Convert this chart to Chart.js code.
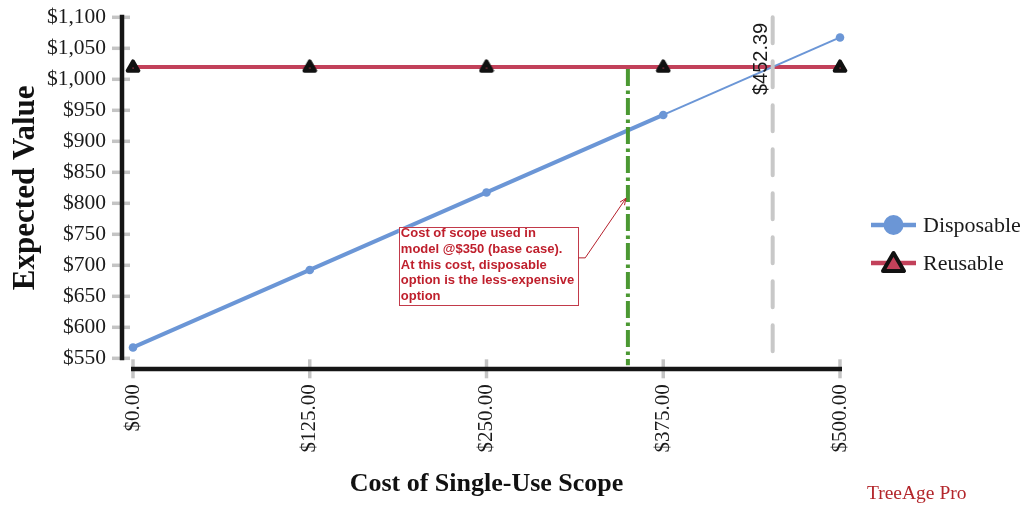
<!DOCTYPE html>
<html>
<head>
<meta charset="utf-8">
<script src="https://cdn.jsdelivr.net/npm/chart.js@4/dist/chart.umd.min.js"></script>
<style>
  html, body { margin: 0; padding: 0; background: #ffffff; }
  #wrap { width: 1024px; height: 506px; position: relative; }
</style>
</head>
<body>
<div id="wrap"><canvas id="chart" width="1024" height="506"></canvas></div>
<script>
// One-way sensitivity analysis: cost of a single-use scope vs expected value
const scopeCosts = [0, 125, 250, 375, 500];
const disposableEV = [567.5, 692.5, 817.5, 942.5, 1067.5];
const reusableEV = [1019.9, 1019.9, 1019.9, 1019.9, 1019.9];
const seriesNames = ['Disposable', 'Reusable'];
const thresholdCost = 452.39;      // break-even cost
const baseCaseCost = 350;          // cost used in the base-case model
const noteLines = [
  'Cost of scope used in',
  'model @$350 (base case).',
  'At this cost, disposable',
  'option is the less-expensive',
  'option'
];
const noteAnchor = { x: 188, y: 762 };   // top-left of the callout, in data units
const noteTarget = { x: baseCaseCost, y: 808 };

const BLUE = '#6b96d6';
const RED = '#c2415a';
const GREEN = '#4b9832';
const SERIF = '"Liberation Serif", "Times New Roman", serif';
const SANS = '"Liberation Sans", Arial, sans-serif';

const money = v => '$' + Number(v).toLocaleString('en-US');

// Small black-edged triangle marker with rounded corners
function triangleMarker() {
  const c = document.createElement('canvas');
  c.width = 16; c.height = 16;
  const g = c.getContext('2d');
  g.beginPath();
  g.moveTo(8, 2.4);
  g.lineTo(13.3, 11.7);
  g.lineTo(2.7, 11.7);
  g.closePath();
  g.fillStyle = '#111111';
  g.fill();
  g.lineJoin = 'round';
  g.lineWidth = 4;
  g.strokeStyle = '#111111';
  g.stroke();
  g.fillStyle = RED;
  g.fillRect(7.5, 8.5, 1.2, 1.2);
  return c;
}

// Offset axis lines, grey tick marks
const axesPlugin = {
  id: 'offsetAxes',
  beforeDatasetsDraw(chart) {
    const { ctx, chartArea: a, scales: { x, y } } = chart;
    ctx.save();
    ctx.strokeStyle = '#c4c4c4';
    ctx.lineWidth = 3.5;
    y.ticks.forEach(t => {
      const py = y.getPixelForValue(t.value);
      ctx.beginPath(); ctx.moveTo(a.left - 21, py); ctx.lineTo(a.left - 3, py); ctx.stroke();
    });
    x.ticks.forEach(t => {
      const px = x.getPixelForValue(t.value);
      ctx.beginPath(); ctx.moveTo(px, a.bottom + 1); ctx.lineTo(px, a.bottom + 20); ctx.stroke();
    });
    ctx.strokeStyle = '#151515';
    ctx.lineWidth = 4.5;
    ctx.beginPath(); ctx.moveTo(a.left - 11, a.top - 2.5); ctx.lineTo(a.left - 11, a.bottom + 2); ctx.stroke();
    ctx.beginPath(); ctx.moveTo(a.left - 2, a.bottom + 10.7); ctx.lineTo(a.right + 2, a.bottom + 10.7); ctx.stroke();
    ctx.restore();
  }
};

// Reference lines, callout and legend
const overlayPlugin = {
  id: 'overlay',
  afterDatasetsDraw(chart) {
    const { ctx, chartArea: a, scales: { x, y } } = chart;
    ctx.save();

    // break-even line
    const tx = x.getPixelForValue(thresholdCost);
    ctx.strokeStyle = '#c8c8c8';
    ctx.lineWidth = 4;
    ctx.lineCap = 'round';
    ctx.setLineDash([26, 18]);
    ctx.beginPath(); ctx.moveTo(tx, a.top); ctx.lineTo(tx, a.bottom - 6); ctx.stroke();
    ctx.setLineDash([]);
    ctx.lineCap = 'butt';

    ctx.save();
    ctx.translate(tx - 6, a.top + 5.5);
    ctx.rotate(-Math.PI / 2);
    ctx.font = '20px ' + SANS;
    ctx.fillStyle = '#1a1a1a';
    ctx.textAlign = 'right';
    ctx.textBaseline = 'alphabetic';
    ctx.fillText('$' + thresholdCost.toFixed(2), 0, 0);
    ctx.restore();

    // base-case line
    const gx = x.getPixelForValue(baseCaseCost);
    ctx.strokeStyle = GREEN;
    ctx.lineWidth = 4;
    ctx.setLineDash([17, 4.5, 3.5, 4]);
    ctx.beginPath();
    ctx.moveTo(gx, y.getPixelForValue(reusableEV[0]) + 2);
    ctx.lineTo(gx, a.bottom + 7);
    ctx.stroke();
    ctx.setLineDash([]);

    // callout box
    ctx.font = 'bold 13px ' + SANS;
    const lh = 15.7;
    const bx = x.getPixelForValue(noteAnchor.x);
    const by = y.getPixelForValue(noteAnchor.y);
    const bw = Math.max(...noteLines.map(s => ctx.measureText(s).width)) + 6;
    const bh = (noteLines.length - 1) * lh + 15.6;
    ctx.fillStyle = '#ffffff';
    ctx.fillRect(bx, by, bw, bh);
    ctx.strokeStyle = '#c23a4a';
    ctx.lineWidth = 1;
    ctx.strokeRect(Math.round(bx) + 0.5, Math.round(by) + 0.5, Math.round(bw), Math.round(bh));
    ctx.fillStyle = '#bf1f2c';
    ctx.textAlign = 'left';
    ctx.textBaseline = 'middle';
    noteLines.forEach((s, i) => ctx.fillText(s, bx + 2, by + 6.8 + i * lh));

    // leader arrow
    const ax0 = bx + bw, ay0 = by + 31;
    const axT = x.getPixelForValue(noteTarget.x) - 2, ayT = y.getPixelForValue(noteTarget.y);
    ctx.strokeStyle = '#b5202c';
    ctx.lineWidth = 1;
    ctx.beginPath();
    ctx.moveTo(ax0, ay0); ctx.lineTo(ax0 + 7, ay0); ctx.lineTo(axT, ayT);
    ctx.stroke();
    const ang = Math.atan2(ayT - ay0, axT - (ax0 + 7));
    ctx.beginPath();
    ctx.moveTo(axT - 7 * Math.cos(ang - 0.4), ayT - 7 * Math.sin(ang - 0.4));
    ctx.lineTo(axT, ayT);
    ctx.lineTo(axT - 7 * Math.cos(ang + 0.4), ayT - 7 * Math.sin(ang + 0.4));
    ctx.stroke();

    ctx.restore();
  },
  afterDraw(chart) {
    const { ctx, chartArea: a } = chart;
    ctx.save();
    const lx0 = a.right + 31, lx1 = a.right + 76, mx = a.right + 53.5, tx = a.right + 83;
    const row1 = 225, row2 = 263;

    ctx.lineWidth = 4.5;
    ctx.strokeStyle = BLUE;
    ctx.beginPath(); ctx.moveTo(lx0, row1); ctx.lineTo(lx1, row1); ctx.stroke();
    ctx.fillStyle = BLUE;
    ctx.beginPath(); ctx.arc(mx, row1, 10, 0, Math.PI * 2); ctx.fill();

    ctx.strokeStyle = RED;
    ctx.beginPath(); ctx.moveTo(lx0, row2); ctx.lineTo(lx1, row2); ctx.stroke();
    ctx.beginPath();
    ctx.moveTo(mx, row2 - 10);
    ctx.lineTo(mx + 10.5, row2 + 8);
    ctx.lineTo(mx - 10.5, row2 + 8);
    ctx.closePath();
    ctx.fillStyle = RED;
    ctx.fill();
    ctx.lineJoin = 'round';
    ctx.lineWidth = 4;
    ctx.strokeStyle = '#111111';
    ctx.stroke();

    ctx.fillStyle = '#1a1a1a';
    ctx.font = '22px ' + SERIF;
    ctx.textAlign = 'left';
    ctx.textBaseline = 'middle';
    ctx.fillText(seriesNames[0], tx, row1 + 1);
    ctx.fillText(seriesNames[1], tx, row2 + 1);

    ctx.fillStyle = '#b3262b';
    ctx.font = '19.5px ' + SERIF;
    ctx.textBaseline = 'alphabetic';
    ctx.fillText('TreeAge Pro', a.right + 27, 499);
    ctx.restore();
  }
};

new Chart(document.getElementById('chart'), {
  type: 'line',
  data: {
    datasets: [
      {
        label: seriesNames[0],
        data: scopeCosts.map((c, i) => ({ x: c, y: disposableEV[i] })),
        borderColor: BLUE,
        backgroundColor: BLUE,
        borderWidth: 4,
        segment: { borderWidth: ctx => (ctx.p0DataIndex >= 3 ? 2 : 4) },
        pointRadius: 4.3,
        pointBorderWidth: 0,
        pointBackgroundColor: BLUE,
        tension: 0,
        clip: false
      },
      {
        label: seriesNames[1],
        data: scopeCosts.map((c, i) => ({ x: c, y: reusableEV[i] })),
        borderColor: RED,
        backgroundColor: RED,
        borderWidth: 4,
        pointStyle: triangleMarker(),
        pointRadius: 8,
        tension: 0,
        clip: false
      }
    ]
  },
  options: {
    responsive: false,
    animation: false,
    devicePixelRatio: 1,
    layout: { padding: { top: 17.3, right: 184, bottom: 0, left: 0 } },
    plugins: { legend: { display: false }, tooltip: { enabled: false } },
    scales: {
      x: {
        type: 'linear',
        min: 0,
        max: 500,
        afterFit: s => { s.height = 147.7; s.paddingLeft = 0; s.paddingRight = 0; },
        grid: { display: false, drawTicks: false, tickLength: 0 },
        border: { display: false },
        ticks: {
          stepSize: 125,
          minRotation: 90,
          maxRotation: 90,
          padding: 26,
          color: '#1a1a1a',
          font: { family: SERIF, size: 21 },
          callback: v => '$' + Number(v).toFixed(2)
        },
        title: {
          display: true,
          text: 'Cost of Single-Use Scope',
          color: '#111111',
          font: { family: SERIF, size: 26, weight: 'bold' },
          padding: { top: 0, bottom: 6 }
        }
      },
      y: {
        min: 550,
        max: 1100,
        afterFit: s => { s.width = 133; s.paddingTop = 0; s.paddingBottom = 0; },
        grid: { display: false, drawTicks: false, tickLength: 0 },
        border: { display: false },
        ticks: {
          stepSize: 50,
          padding: 27,
          color: '#1a1a1a',
          font: { family: SERIF, size: 21.5 },
          callback: v => money(v)
        },
        title: {
          display: true,
          text: 'Expected Value',
          color: '#111111',
          font: { family: SERIF, size: 31, weight: 'bold' },
          padding: { top: 7, bottom: 0 }
        }
      }
    }
  },
  plugins: [axesPlugin, overlayPlugin]
});
</script>
</body>
</html>
